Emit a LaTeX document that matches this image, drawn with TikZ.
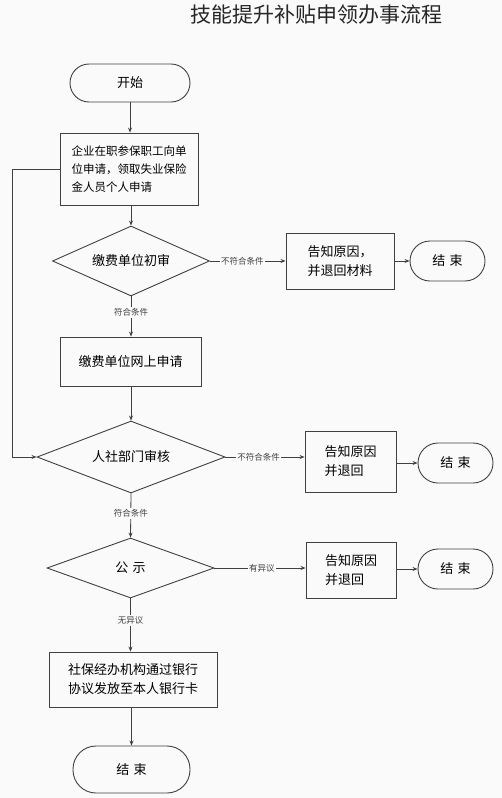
\documentclass[tikz,border=0pt]{standalone}
\usepackage{fontspec}
\setmainfont{Noto Sans CJK SC}
\usetikzlibrary{shapes.geometric,arrows.meta}
\definecolor{bg}{HTML}{FAFAFA}
\definecolor{ln}{HTML}{404040}
\tikzset{
  base/.style={draw=ln,line width=0.9pt,fill=bg,text=black,inner sep=0pt,font=\fontsize{13}{19}\selectfont},
  box/.style={base,rectangle},
  dia/.style={base,diamond,aspect=2},
  arr/.style={draw=ln,line width=0.8pt,-{Stealth[length=5pt,width=4pt]}},
  lab/.style={fill=bg,inner sep=1.5pt,font=\fontsize{8.5}{10}\selectfont,text=ln},
}
\begin{document}
\begin{tikzpicture}[x=1pt,y=-1pt]
\useasboundingbox[fill=bg] (0,0) rectangle (502,798);
\node[font=\fontsize{21}{24}\selectfont,text=black!85] (title) at (316,15) {技能提升补贴申领办事流程};
% start
\node[base,rounded corners=19pt,minimum width=120pt,minimum height=38pt] (start) at (130,83) {开始};
\node[box,minimum width=138pt,minimum height=72pt,align=left,font=\fontsize{11.5}{18}\selectfont] (b1) at (129,169) {企业在职参保职工向单\\位申请，领取失业保险\\金人员个人申请};
\node[dia,minimum width=157pt,minimum height=70pt] (d1) at (131,261) {缴费单位初审};
\node[box,minimum width=108pt,minimum height=56pt,align=left] (r1) at (340,261) {告知原因，\\并退回材料};
\node[base,rounded corners=20pt,minimum width=75pt,minimum height=40pt] (e1) at (447.5,261) {结\,\,束};
\node[box,minimum width=141pt,minimum height=49pt] (b2) at (130.5,361.5) {缴费单位网上申请};
\node[dia,minimum width=188pt,minimum height=72pt] (d2) at (131,457) {人社部门审核};
\node[box,minimum width=91pt,minimum height=61pt,align=left] (r2) at (350.5,461.5) {告知原因\\并退回};
\node[base,rounded corners=20pt,minimum width=75pt,minimum height=40pt] (e2) at (455.5,463) {结\,\,束};
\node[dia,minimum width=167pt,minimum height=60pt] (d3) at (130.5,568) {公\,\,示};
\node[box,minimum width=90pt,minimum height=56pt,align=left] (r3) at (351,570) {告知原因\\并退回};
\node[base,rounded corners=20pt,minimum width=75pt,minimum height=40pt] (e3) at (455.5,569) {结\,\,束};
\node[box,minimum width=168pt,minimum height=55pt,align=left] (b5) at (133,679.5) {社保经办机构通过银行\\协议发放至本人银行卡};
\node[base,rounded corners=23pt,minimum width=117pt,minimum height=47pt] (e4) at (131.5,769.5) {结\,\,束};
% connectors
\draw[arr] (start.south) -- (b1.north -| start.south);
\draw[arr] (b1.south -| d1.north) -- (d1.north);
\draw[arr] (d1.east) -- node[lab,pos=0.43]{不符合条件} (r1.west);
\draw[arr] (r1.east) -- (e1.west);
\draw[arr] (d1.south) -- node[lab,pos=0.4]{符合条件} (b2.north -| d1.south);
\draw[arr] (b2.south -| d2.north) -- (d2.north);
\coordinate (fb) at (12,169);
\draw[arr] (b1.west) -- (fb) -- (fb |- d2.west) -- (d2.west);
\draw[arr] (d2.east) -- node[lab,pos=0.42]{不符合条件} (d2.east -| r2.west);
\draw[arr] (r2.east |- e2.west) -- (e2.west);
\draw[arr] (d2.south) -- node[lab,pos=0.45]{符合条件} (d3.north);
\draw[arr] (d3.east) -- node[lab,pos=0.52]{有异议} (d3.east -| r3.west);
\draw[arr] (r3.east |- e3.west) -- (e3.west);
\draw[arr] (d3.south) -- node[lab,pos=0.42]{无异议} (b5.north -| d3.south);
\draw[arr] (b5.south -| e4.north) -- (e4.north);
\end{tikzpicture}
\end{document}
